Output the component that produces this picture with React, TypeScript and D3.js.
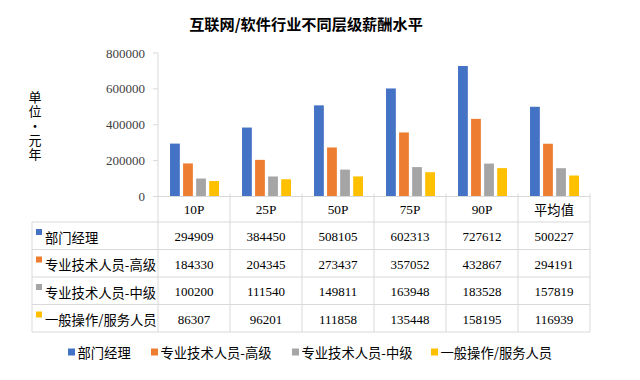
import React from "react";
import * as d3 from "d3";

const title = "互联网/软件行业不同层级薪酬水平";
const categories = ["10P", "25P", "50P", "75P", "90P", "平均值"];
const seriesNames = ["部门经理", "专业技术人员-高级", "专业技术人员-中级", "一般操作/服务人员"];
const seriesColors = ["#4472C4", "#ED7D31", "#A5A5A5", "#FFC000"];
const manager = [294909, 384450, 508105, 602313, 727612, 500227];
const seniorTech = [184330, 204345, 273437, 357052, 432867, 294191];
const midTech = [100200, 111540, 149811, 163948, 183528, 157819];
const general = [86307, 96201, 111858, 135448, 158195, 116939];
const seriesValues = [manager, seniorTech, midTech, general];
const yTicks = [0, 200000, 400000, 600000, 800000];
const yLabel = "单位·元年";

const W = 640;
const H = 380;
const plotLeft = 158;
const plotRight = 590;
const plotTop = 53;
const plotBottom = 196.5;
const tableLeft = 32;
const headerBottom = 222;
const tableBottom = 332;
const border = "#d9d9d9";
const cjk = "'Noto Sans CJK SC', 'Noto Sans', sans-serif";
const serif = "'Liberation Serif', 'DejaVu Serif', serif";

export default function App() {
  const x0 = d3.scaleBand<string>().domain(categories).range([plotLeft, plotRight]);
  const cw = x0.bandwidth();
  const x1 = d3
    .scaleBand<string>()
    .domain(seriesNames)
    .range([cw * 0.167, cw * 0.847])
    .paddingInner(0.25)
    .paddingOuter(0);
  const y = d3.scaleLinear().domain([0, 800000]).range([plotBottom, plotTop]);
  const rowScale = d3
    .scaleBand<string>()
    .domain(seriesNames)
    .range([headerBottom, tableBottom]);
  const rh = rowScale.bandwidth();

  const legendY = 352;
  const legendFont = 13.3;
  const legendStarts = [68, 151, 292, 431];

  return (
    <svg width={W} height={H} style={{ position: "absolute", left: 0, top: 0, background: "#fff" }}>
      <rect x={0} y={0} width={W} height={H} fill="#fff" />
      <text
        x={306}
        y={23}
        textAnchor="middle"
        dominantBaseline="central"
        fontFamily={cjk}
        fontWeight="bold"
        fontSize={15.2}
        fill="#000"
      >
        {title}
      </text>

      {/* Y axis label (vertical, upright characters) */}
      <text
        x={35}
        y={126.5}
        textAnchor="middle"
        fontFamily={cjk}
        fontSize={13}
        letterSpacing={1.3}
        fill="#000"
        style={{ writingMode: "vertical-rl", textOrientation: "upright" } as any}
      >
        {yLabel}
      </text>

      {/* Y axis */}
      <line x1={plotLeft} x2={plotLeft} y1={plotTop} y2={plotBottom} stroke={border} />
      {yTicks.map((t) => (
        <g key={t}>
          <line x1={plotLeft - 5} x2={plotLeft} y1={y(t)} y2={y(t)} stroke={border} />
          <text
            x={145}
            y={y(t)}
            textAnchor="end"
            dominantBaseline="central"
            fontFamily={serif}
            fontSize={13}
            fill="#404040"
          >
            {t}
          </text>
        </g>
      ))}

      {/* Bars */}
      {categories.map((c, ci) => (
        <g key={c} transform={`translate(${x0(c)},0)`}>
          {seriesNames.map((s, si) => {
            const v = seriesValues[si][ci];
            return (
              <rect
                key={s}
                x={x1(s)}
                y={y(v)}
                width={x1.bandwidth()}
                height={plotBottom - y(v)}
                fill={seriesColors[si]}
              />
            );
          })}
        </g>
      ))}

      {/* X axis line */}
      <line x1={plotLeft} x2={plotRight} y1={plotBottom} y2={plotBottom} stroke={border} />

      {/* Table grid */}
      {categories.map((c) => (
        <line
          key={"v" + c}
          x1={(x0(c) as number) + cw}
          x2={(x0(c) as number) + cw}
          y1={plotBottom - 3}
          y2={tableBottom}
          stroke={border}
        />
      ))}
      <line x1={plotLeft} x2={plotLeft} y1={plotBottom} y2={tableBottom} stroke={border} />
      <line x1={tableLeft} x2={tableLeft} y1={headerBottom} y2={tableBottom} stroke={border} />
      {seriesNames.map((s) => (
        <line
          key={"h" + s}
          x1={tableLeft}
          x2={plotRight}
          y1={rowScale(s)}
          y2={rowScale(s)}
          stroke={border}
        />
      ))}
      <line x1={tableLeft} x2={plotRight} y1={tableBottom} y2={tableBottom} stroke={border} />

      {/* Header */}
      {categories.map((c) => (
        <text
          key={"hd" + c}
          x={(x0(c) as number) + cw / 2}
          y={(plotBottom + headerBottom) / 2 + 0.5}
          textAnchor="middle"
          dominantBaseline="central"
          fontFamily={/^[0-9A-Za-z]+$/.test(c) ? serif : cjk}
          fontSize={13.3}
          fill="#000"
        >
          {c}
        </text>
      ))}

      {/* Rows */}
      {seriesNames.map((s, si) => {
        const top = rowScale(s) as number;
        return (
          <g key={"r" + s}>
            <rect x={36} y={top + 7} width={6} height={6} fill={seriesColors[si]} />
            <text
              x={45}
              y={top + rh / 2 + 1.5}
              dominantBaseline="central"
              fontFamily={cjk}
              fontSize={13.3}
              fill="#000"
            >
              {s}
            </text>
            {categories.map((c, ci) => (
              <text
                key={c}
                x={(x0(c) as number) + cw / 2}
                y={top + rh / 2 + 1}
                textAnchor="middle"
                dominantBaseline="central"
                fontFamily={serif}
                fontSize={13}
                fill="#000"
              >
                {seriesValues[si][ci]}
              </text>
            ))}
          </g>
        );
      })}

      {/* Legend */}
      {seriesNames.map((s, si) => (
        <g key={"lg" + s}>
          <rect x={legendStarts[si]} y={legendY - 3.5} width={7} height={7} fill={seriesColors[si]} />
          <text
            x={legendStarts[si] + 9.5}
            y={legendY}
            dominantBaseline="central"
            fontFamily={cjk}
            fontSize={legendFont}
            fill="#000"
          >
            {s}
          </text>
        </g>
      ))}
    </svg>
  );
}
